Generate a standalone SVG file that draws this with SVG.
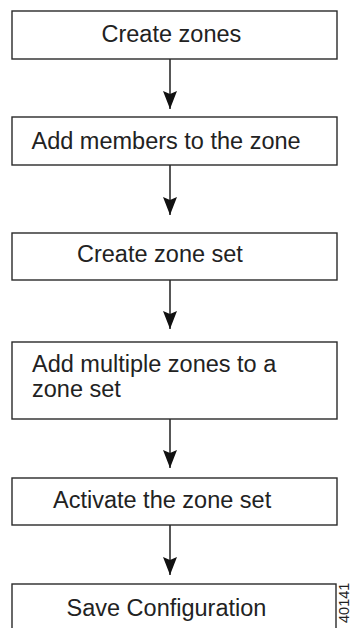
<svg xmlns="http://www.w3.org/2000/svg" width="354" height="628" viewBox="0 0 354 628">
  <style>
    .box { fill: #ffffff; stroke: #2a2a2a; stroke-width: 1.4; }
    .lbl { font-family: "Liberation Sans", Arial, sans-serif; font-size: 23.5px; fill: #222222; }
    .wire { fill: none; stroke: #111111; stroke-width: 1.4; }
    .tag { font-family: "Liberation Sans", Arial, sans-serif; font-size: 14.5px; fill: #222222; }
  </style>
  <defs>
    <!-- arrowhead drawn along +x so orient="auto" points it along the line -->
    <marker id="head" viewBox="0 0 18 14" refX="18" refY="7" markerWidth="18" markerHeight="14" markerUnits="userSpaceOnUse" orient="auto">
      <path d="M0,0 L3,7 L0,14 L18,7 Z" fill="#111111"/>
    </marker>
  </defs>
  <rect width="354" height="628" fill="#ffffff"/>

  <g id="connectors">
    <line class="wire" x1="170" y1="59" x2="170" y2="109" marker-end="url(#head)"/>
    <line class="wire" x1="170" y1="165" x2="170" y2="215" marker-end="url(#head)"/>
    <line class="wire" x1="170" y1="280" x2="170" y2="329" marker-end="url(#head)"/>
    <line class="wire" x1="170" y1="419" x2="170" y2="468" marker-end="url(#head)"/>
    <line class="wire" x1="170" y1="525" x2="170" y2="575" marker-end="url(#head)"/>
  </g>

  <g id="create-zones">
    <rect class="box" x="12" y="11" width="325" height="48"/>
    <text class="lbl" x="101.5" y="41.5">Create zones</text>
  </g>

  <g id="add-members">
    <rect class="box" x="12" y="117" width="325" height="48"/>
    <text class="lbl" x="31.5" y="149">Add members to the zone</text>
  </g>

  <g id="create-zone-set">
    <rect class="box" x="12" y="233" width="325" height="47"/>
    <text class="lbl" x="77" y="261.5">Create zone set</text>
  </g>

  <g id="add-zones-to-set">
    <rect class="box" x="12" y="342" width="325" height="77"/>
    <text class="lbl" x="32" y="372">Add multiple zones to a</text>
    <text class="lbl" x="32" y="396.5">zone set</text>
  </g>

  <g id="activate-zone-set">
    <rect class="box" x="12" y="478" width="325" height="47"/>
    <text class="lbl" x="53" y="508">Activate the zone set</text>
  </g>

  <g id="save-configuration">
    <rect class="box" x="12" y="584" width="324" height="60"/>
    <text class="lbl" x="66.5" y="616">Save Configuration</text>
  </g>

  <text class="tag" transform="translate(349,623) rotate(-90)">40141</text>
</svg>
